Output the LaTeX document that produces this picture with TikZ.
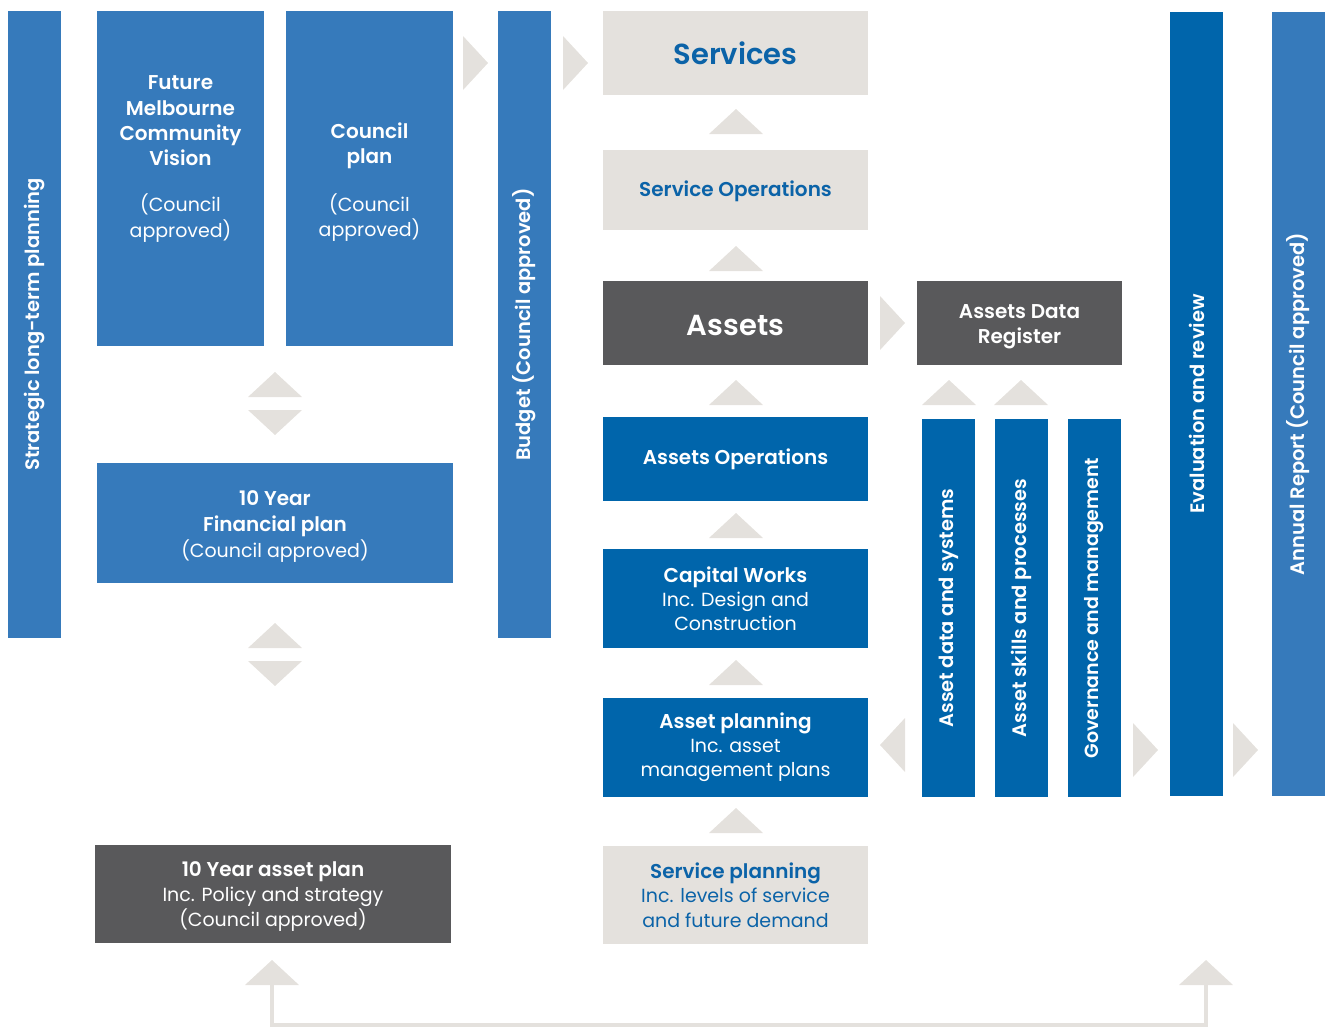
\documentclass[tikz,border=0pt]{standalone}
\usepackage{fontspec}
\setmainfont{Poppins}[BoldFont={Poppins SemiBold}]
\definecolor{mblue}{HTML}{367ABB}
\definecolor{dblue}{HTML}{0065AB}
\definecolor{lgray}{HTML}{E4E1DD}
\definecolor{dgray}{HTML}{59595B}
\definecolor{tblue}{HTML}{0B63A8}
\newcommand\mkUp[2]{\fill[lgray] (#1-27,#2+25) -- (#1,#2) -- (#1+27,#2+25) -- cycle;}
\newcommand\mkDown[2]{\fill[lgray] (#1-27,#2-25) -- (#1,#2) -- (#1+27,#2-25) -- cycle;}
\newcommand\mkRight[2]{\fill[lgray] (#1-25,#2-27) -- (#1,#2) -- (#1-25,#2+27) -- cycle;}
\newcommand\mkLeft[2]{\fill[lgray] (#1+25,#2-27) -- (#1,#2) -- (#1+25,#2+27) -- cycle;}
\begin{document}
\begin{tikzpicture}[x=1pt,y=-1pt,
  boxbase/.style={inner sep=0pt, outer sep=0pt, align=center},
  mbox/.style={boxbase, fill=mblue, text=white},
  dbox/.style={boxbase, fill=dblue, text=white},
  gbox/.style={boxbase, fill=lgray, text=tblue},
  kbox/.style={boxbase, fill=dgray, text=white},
  vtext/.style={font=\fontsize{19.5}{23}\selectfont\bfseries, rotate=90},
  lbl/.style={inner sep=0pt, align=center},
  link/.style={draw=lgray, line width=4pt}
]
\useasboundingbox (0,0) rectangle (1329,1029);

% vertical bars
\node[mbox, vtext, minimum width=627, minimum height=53] (strat) at (34.5,324.5) {Strategic long-term planning};
\node[mbox, vtext, minimum width=627, minimum height=53] (budget) at (524.5,324.5) {Budget (Council approved)};
\node[dbox, vtext, minimum width=784, minimum height=53] (eval) at (1196.5,404) {Evaluation and review};
\node[mbox, vtext, minimum width=784, minimum height=53] (annual) at (1298.5,404) {Annual Report (Council approved)};
\node[dbox, vtext, minimum width=378, minimum height=53] (ads) at (948.5,608) {Asset data and systems};
\node[dbox, vtext, minimum width=378, minimum height=53] (asp) at (1021.5,608) {Asset skills and processes};
\node[dbox, vtext, minimum width=378, minimum height=53, font=\fontsize{19}{23}\selectfont\bfseries] (gov) at (1094.5,608) {Governance and management};

% left column boxes
\node[mbox, minimum width=167, minimum height=335] (fmcv) at (180.5,178.5) {};
\node[lbl, text=white, font=\fontsize{20}{25.3}\selectfont\bfseries] (fmcvt) at (180.5,121) {Future\\Melbourne\\Community\\Vision};
\node[lbl, text=white, font=\fontsize{19}{26}\selectfont] (fmcvs) at (180.5,218) {(Council\\approved)};
\node[mbox, minimum width=167, minimum height=335] (cplan) at (369.5,178.5) {};
\node[lbl, text=white, font=\fontsize{20}{25}\selectfont\bfseries] (cplant) at (369.5,146) {Council\\plan};
\node[lbl, text=white, font=\fontsize{19}{25}\selectfont] (cplans) at (369.5,217.5) {(Council\\approved)};

\node[mbox, minimum width=356, minimum height=120] (fin) at (275,523) {};
\node[lbl, text=white, font=\fontsize{20}{26}\selectfont] (fint) at (275,527)
  {\bfseries 10 Year\\\bfseries Financial plan\\\fontsize{19}{26}\selectfont(Council approved)};
\node[kbox, minimum width=356, minimum height=98] (aplan10) at (273,894) {};
\node[lbl, text=white, font=\fontsize{19}{25}\selectfont] (aplan10t) at (273,897)
  {\fontsize{20}{25}\selectfont\bfseries 10 Year asset plan\\Inc. Policy and strategy\\(Council approved)};

% centre column
\node[gbox, minimum width=265, minimum height=84, font=\fontsize{29}{34}\selectfont\bfseries] (serv) at (735.5,53) {Services};
\node[gbox, minimum width=265, minimum height=80] (servop) at (735.5,190) {};
\node[lbl, text=tblue, font=\fontsize{20}{25}\selectfont\bfseries] (servopt) at (735.5,191.5) {Service Operations};
\node[kbox, minimum width=265, minimum height=84] (assets) at (735.5,323) {};
\node[lbl, text=white, font=\fontsize{29}{34}\selectfont\bfseries] (assetst) at (735.5,325) {Assets};
\node[kbox, minimum width=205, minimum height=84] (adr) at (1019.5,323) {};
\node[lbl, text=white, font=\fontsize{20}{25}\selectfont\bfseries] (adrt) at (1019.5,327) {Assets Data\\Register};
\node[dbox, minimum width=265, minimum height=84, font=\fontsize{20}{25}\selectfont\bfseries] (aops) at (735.5,459) {Assets Operations};
\node[dbox, minimum width=265, minimum height=99, font=\fontsize{19}{24}\selectfont] (capw) at (735.5,598.5)
  {\fontsize{20}{24}\selectfont\bfseries Capital Works\\Inc. Design and\\Construction};
\node[dbox, minimum width=265, minimum height=99, font=\fontsize{19}{24}\selectfont] (aplan) at (735.5,747.5)
  {\fontsize{20}{24}\selectfont\bfseries Asset planning\\Inc. asset\\management plans};
\node[gbox, minimum width=265, minimum height=98, font=\fontsize{19}{24.5}\selectfont] (splan) at (735.5,895)
  {\fontsize{20}{24.5}\selectfont\bfseries Service planning\\Inc. levels of service\\and future demand};

% chevrons
\mkRight{488}{63}
\mkRight{588}{63}
\mkRight{905}{323}
\mkRight{1158}{750}
\mkRight{1258}{750}
\mkLeft{880}{745}
\mkUp{736}{109}
\mkUp{736}{246}
\mkUp{736}{380}
\mkUp{736}{513}
\mkUp{736}{660}
\mkUp{736}{808}
\mkUp{949}{380}
\mkUp{1021}{380}
\mkUp{275}{372}
\mkDown{275}{435}
\mkUp{275}{623}
\mkDown{275}{686}
\mkUp{272}{960}
\mkUp{1206}{960}

% bottom feedback connector
\coordinate (lb) at (272,985);
\coordinate (rb) at (1206,985);
\draw[link] (lb) -- ++(0,40) -| (rb);
\end{tikzpicture}
\end{document}
